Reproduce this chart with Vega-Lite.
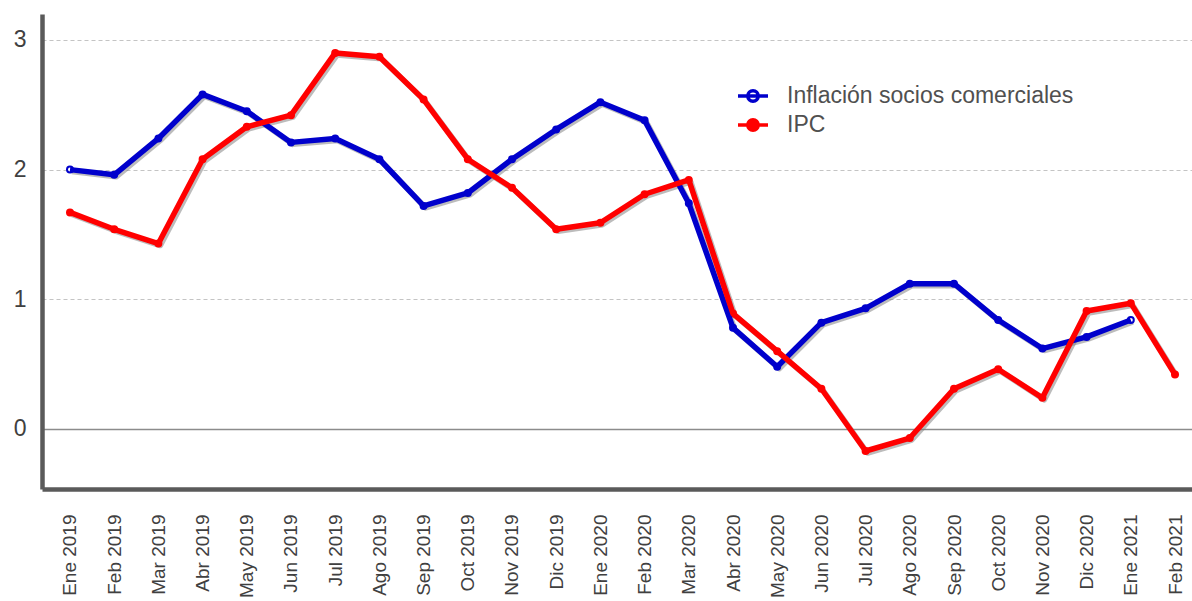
{
  "$schema": "https://vega.github.io/schema/vega-lite/v6.json",
  "autosize": "none",
  "width": 1150,
  "height": 475,
  "padding": {"left": 42, "top": 14, "right": 0, "bottom": 112},
  "background": "white",
  "config": {
    "view": {"stroke": null},
    "font": "Liberation Sans"
  },
  "data": {
    "values": [
      {"mes": "Ene 2019", "serie": "Inflación socios comerciales", "valor": 2.00},
      {"mes": "Feb 2019", "serie": "Inflación socios comerciales", "valor": 1.96},
      {"mes": "Mar 2019", "serie": "Inflación socios comerciales", "valor": 2.24},
      {"mes": "Abr 2019", "serie": "Inflación socios comerciales", "valor": 2.58},
      {"mes": "May 2019", "serie": "Inflación socios comerciales", "valor": 2.45},
      {"mes": "Jun 2019", "serie": "Inflación socios comerciales", "valor": 2.21},
      {"mes": "Jul 2019", "serie": "Inflación socios comerciales", "valor": 2.24},
      {"mes": "Ago 2019", "serie": "Inflación socios comerciales", "valor": 2.08},
      {"mes": "Sep 2019", "serie": "Inflación socios comerciales", "valor": 1.72},
      {"mes": "Oct 2019", "serie": "Inflación socios comerciales", "valor": 1.82},
      {"mes": "Nov 2019", "serie": "Inflación socios comerciales", "valor": 2.08},
      {"mes": "Dic 2019", "serie": "Inflación socios comerciales", "valor": 2.31},
      {"mes": "Ene 2020", "serie": "Inflación socios comerciales", "valor": 2.52},
      {"mes": "Feb 2020", "serie": "Inflación socios comerciales", "valor": 2.38},
      {"mes": "Mar 2020", "serie": "Inflación socios comerciales", "valor": 1.74},
      {"mes": "Abr 2020", "serie": "Inflación socios comerciales", "valor": 0.78},
      {"mes": "May 2020", "serie": "Inflación socios comerciales", "valor": 0.48},
      {"mes": "Jun 2020", "serie": "Inflación socios comerciales", "valor": 0.82},
      {"mes": "Jul 2020", "serie": "Inflación socios comerciales", "valor": 0.93},
      {"mes": "Ago 2020", "serie": "Inflación socios comerciales", "valor": 1.12},
      {"mes": "Sep 2020", "serie": "Inflación socios comerciales", "valor": 1.12},
      {"mes": "Oct 2020", "serie": "Inflación socios comerciales", "valor": 0.84},
      {"mes": "Nov 2020", "serie": "Inflación socios comerciales", "valor": 0.62},
      {"mes": "Dic 2020", "serie": "Inflación socios comerciales", "valor": 0.71},
      {"mes": "Ene 2021", "serie": "Inflación socios comerciales", "valor": 0.84},
      {"mes": "Ene 2019", "serie": "IPC", "valor": 1.67},
      {"mes": "Feb 2019", "serie": "IPC", "valor": 1.54},
      {"mes": "Mar 2019", "serie": "IPC", "valor": 1.43},
      {"mes": "Abr 2019", "serie": "IPC", "valor": 2.08},
      {"mes": "May 2019", "serie": "IPC", "valor": 2.33},
      {"mes": "Jun 2019", "serie": "IPC", "valor": 2.42},
      {"mes": "Jul 2019", "serie": "IPC", "valor": 2.90},
      {"mes": "Ago 2019", "serie": "IPC", "valor": 2.87},
      {"mes": "Sep 2019", "serie": "IPC", "valor": 2.54},
      {"mes": "Oct 2019", "serie": "IPC", "valor": 2.08},
      {"mes": "Nov 2019", "serie": "IPC", "valor": 1.86},
      {"mes": "Dic 2019", "serie": "IPC", "valor": 1.54},
      {"mes": "Ene 2020", "serie": "IPC", "valor": 1.59},
      {"mes": "Feb 2020", "serie": "IPC", "valor": 1.81},
      {"mes": "Mar 2020", "serie": "IPC", "valor": 1.92},
      {"mes": "Abr 2020", "serie": "IPC", "valor": 0.89},
      {"mes": "May 2020", "serie": "IPC", "valor": 0.60},
      {"mes": "Jun 2020", "serie": "IPC", "valor": 0.31},
      {"mes": "Jul 2020", "serie": "IPC", "valor": -0.17},
      {"mes": "Ago 2020", "serie": "IPC", "valor": -0.07},
      {"mes": "Sep 2020", "serie": "IPC", "valor": 0.31},
      {"mes": "Oct 2020", "serie": "IPC", "valor": 0.46},
      {"mes": "Nov 2020", "serie": "IPC", "valor": 0.24},
      {"mes": "Dic 2020", "serie": "IPC", "valor": 0.91},
      {"mes": "Ene 2021", "serie": "IPC", "valor": 0.97},
      {"mes": "Feb 2021", "serie": "IPC", "valor": 0.42}
    ]
  },
  "encoding": {
    "x": {
      "field": "mes",
      "type": "nominal",
      "title": null,
      "scale": {
        "type": "point",
        "domain": ["Ene 2019","Feb 2019","Mar 2019","Abr 2019","May 2019","Jun 2019","Jul 2019","Ago 2019","Sep 2019","Oct 2019","Nov 2019","Dic 2019","Ene 2020","Feb 2020","Mar 2020","Abr 2020","May 2020","Jun 2020","Jul 2020","Ago 2020","Sep 2020","Oct 2020","Nov 2020","Dic 2020","Ene 2021","Feb 2021"],
        "padding": 0.509
      },
      "axis": {
        "domain": true,
        "domainColor": "#5a5a5a",
        "domainWidth": 4.5,
        "ticks": false,
        "tickSize": 0,
        "grid": false,
        "labelAngle": -90,
        "labelAlign": "right",
        "labelBaseline": "middle",
        "labelOffset": 5.5,
        "labelPadding": 25,
        "labelFontSize": 19,
        "labelColor": "#404040",
        "labelFont": "Liberation Sans"
      }
    },
    "y": {
      "field": "valor",
      "type": "quantitative",
      "title": null,
      "scale": {"domain": [-0.463, 3.2], "nice": false, "zero": false},
      "axis": {
        "values": [0, 1, 2, 3],
        "domain": true,
        "domainColor": "#5a5a5a",
        "domainWidth": 4.5,
        "ticks": false,
        "tickSize": 0,
        "labelPadding": 16,
        "labelFontSize": 23,
        "labelColor": "#404040",
        "labelFont": "Liberation Sans",
        "grid": true,
        "gridColor": {"condition": {"test": "datum.value === 0", "value": "#8c8c8c"}, "value": "#c4c4c4"},
        "gridDash": {"condition": {"test": "datum.value === 0", "value": []}, "value": [4, 3]},
        "gridWidth": {"condition": {"test": "datum.value === 0", "value": 1.5}, "value": 1.2}
      }
    }
  },
  "layer": [
    {
      "mark": {"type": "line", "strokeWidth": 5.5, "color": "#7a7a7a", "opacity": 0.5, "xOffset": 7.5, "yOffset": 2, "strokeJoin": "round"},
      "encoding": {"detail": {"field": "serie", "type": "nominal"}}
    },
    {
      "mark": {"type": "point", "shape": "circle", "filled": false, "size": 36, "strokeWidth": 2, "opacity": 1, "xOffset": 5.5},
      "encoding": {
        "stroke": {"condition": {"test": "datum.serie === 'IPC'", "value": "#ff0000"}, "value": "#0000cc"},
        "fill": {"condition": {"test": "datum.serie === 'IPC'", "value": "#ff0000"}, "value": "#ffffff"}
      }
    },
    {
      "transform": [{"filter": "datum.serie !== 'IPC'"}],
      "mark": {"type": "line", "strokeWidth": 5.5, "strokeJoin": "round", "xOffset": 5.5},
      "encoding": {
        "color": {"field": "serie", "type": "nominal"}
      }
    },
    {
      "transform": [{"filter": "datum.serie === 'IPC'"}],
      "mark": {"type": "line", "strokeWidth": 5.5, "strokeJoin": "round", "xOffset": 5.5},
      "encoding": {
        "color": {
          "field": "serie",
          "type": "nominal",
          "scale": {"domain": ["Inflación socios comerciales", "IPC"], "range": ["#0000cc", "#ff0000"]},
          "legend": {
            "title": null,
            "orient": "none",
            "legendX": 699,
            "legendY": 70,
            "padding": 0,
            "symbolType": "M-1.5,0L1.5,0M0.52,0A0.52,0.52 0 1,1 -0.52,0A0.52,0.52 0 1,1 0.52,0Z",
            "symbolSize": 400,
            "symbolStrokeWidth": 3.5,
            "labelFontSize": 23,
            "labelColor": "#505050",
            "labelFont": "Liberation Sans",
            "labelLimit": 600,
            "labelOffset": 22,
            "rowPadding": 3,
            "encode": {
              "symbols": {
                "update": {
                  "fill": {"signal": "datum.value === 'IPC' ? '#ff0000' : '#ffffff'"},
                  "opacity": {"value": 1}
                }
              }
            }
          }
        }
      }
    }
  ]
}
